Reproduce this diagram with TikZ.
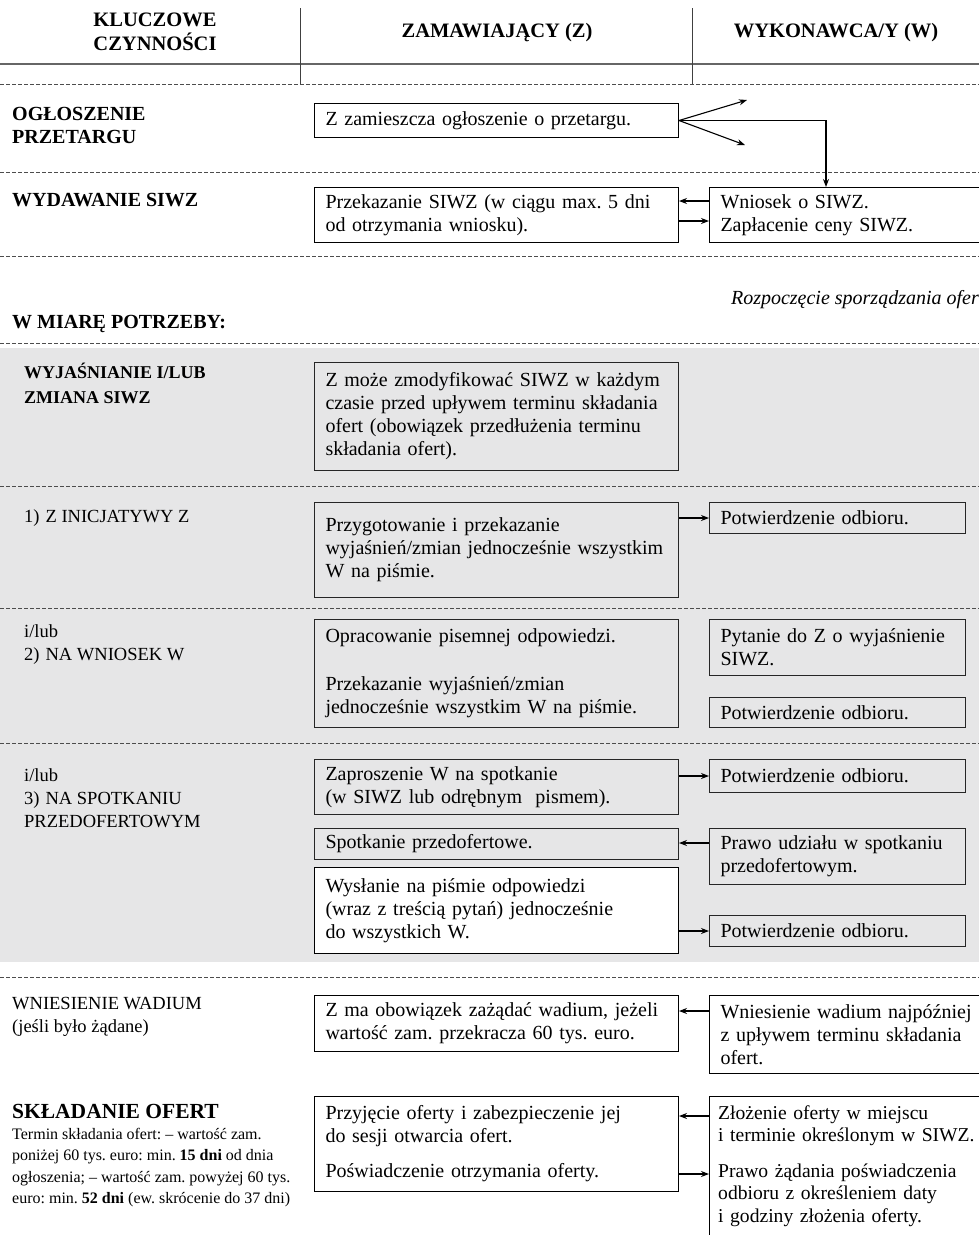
\documentclass[tikz,border=0pt]{standalone}
\usepackage{fontspec}
\setmainfont{Liberation Serif}
\usetikzlibrary{arrows.meta,calc}
\definecolor{bggray}{HTML}{E6E6E7}
\definecolor{dashcol}{HTML}{4D4D4D}
\frenchspacing
\begin{document}
\begin{tikzpicture}[x=1pt,y=-1pt,
  txt/.style={font=\fontsize{20}{23}\selectfont},
  box/.style={draw=black, line width=1pt, anchor=north west, inner xsep=11pt, inner ysep=0pt, align=left, txt},
  zbox/.style={box, minimum width=364pt, text width=342pt, minimum height=#1},
  wbox/.style={box, minimum width=256pt, text width=234pt, minimum height=#1},
  wboxr/.style={box, minimum width=300pt, text width=278pt, minimum height=#1},
  gbox/.style={fill=bggray, draw=black!85},
  sep/.style={draw=dashcol, line width=0.8pt, dash pattern=on 4pt off 2pt},
  arr/.style={-{Stealth[length=8pt,width=6pt]}, line width=1.1pt},
  lab/.style={anchor=west, inner sep=0pt, align=left},
  hd/.style={font=\bfseries\fontsize{20.5}{24}\selectfont, align=center, inner sep=0pt},
  labb/.style={lab, font=\bfseries\fontsize{20}{23}\selectfont},
  labr/.style={lab, font=\fontsize{18.5}{23}\selectfont},
]
\useasboundingbox (0,0) rectangle (979,1235);
\clip (0,0) rectangle (979,1235);

% header
\node[hd] (h1) at (155,32) {KLUCZOWE\\CZYNNOŚCI};
\node[hd] (h2) at (497,33) {ZAMAWIAJĄCY (Z)};
\node[hd] (h3) at (836,33) {WYKONAWCA/Y (W)};
\draw[line width=2pt, black!60] (0,64) -- (979,64);
\draw[line width=1pt, black!75] (300,8) -- (300,84);
\draw[line width=1pt, black!75] (692,8) -- (692,84);
\draw[sep] (0,84) -- (979,84);

% ogloszenie
\node[labb] (l1) at (12,125) {OGŁOSZENIE\\PRZETARGU};
\node[zbox=34] (z1) at (314,103) {Z zamieszcza ogłoszenie o przetargu.};
\coordinate (a1) at (747,100);
\coordinate (a2) at (745,145);
\draw[arr] (z1.east) -- (a1);
\draw[arr] (z1.east) -- (a2);

\draw[sep] (0,172) -- (979,172);

% wydawanie SIWZ
\node[labb] (l2) at (12,200) {WYDAWANIE SIWZ};
\node[zbox=55] (z2) at (314,187) {Przekazanie SIWZ (w ciągu max. 5 dni\\od otrzymania wniosku).};
\node[wboxr=55] (w2) at (709,187) {Wniosek o SIWZ.\\Zapłacenie ceny SIWZ.};
\draw[arr] (z1.east) -| ($(w2.north west)+(117,0)$);
\draw[arr] ($(w2.north west)+(0,14)$) -- ($(z2.north east)+(0,14)$);
\draw[arr] ($(z2.north east)+(0,34)$) -- ($(w2.north west)+(0,34)$);

\draw[sep] (0,256) -- (979,256);

\node[anchor=east, inner sep=0pt, font=\itshape\fontsize{20}{23}\selectfont] (r1) at (979,300) {Rozpoczęcie sporządzania ofer};
\node[labb] (l3) at (12,324) {W MIARĘ POTRZEBY:};
\draw[sep] (0,343) -- (979,343);

\fill[bggray] (0,348) rectangle (979,962);

% wyjasnianie
\node[lab, font=\bfseries\fontsize{18}{25}\selectfont] (l4) at (24,383.5) {WYJAŚNIANIE I/LUB\\ZMIANA SIWZ};
\node[zbox=108, gbox] (z3) at (314,362) {Z może zmodyfikować SIWZ w każdym\\czasie przed upływem terminu składania\\ofert (obowiązek przedłużenia terminu\\składania ofert).};

\draw[sep] (0,486) -- (979,486);

% 1) z inicjatywy
\node[labr] (l5) at (24,518) {1)\hspace{6pt}Z INICJATYWY Z};
\node[zbox=95, gbox] (z4) at (314,502) {Przygotowanie i przekazanie\\wyjaśnień/zmian jednocześnie wszystkim\\W na piśmie.};
\node[wbox=31, gbox] (w4) at (709,502) {Potwierdzenie odbioru.};
\draw[arr] (z4.east |- w4.west) -- (w4.west);

\draw[sep] (0,608) -- (979,608);

% 2) na wniosek
\node[labr] (l6) at (24,645) {i/lub\\2)\hspace{6pt}NA WNIOSEK W};
\node[zbox=108, gbox] (z5) at (314,619) {Opracowanie pisemnej odpowiedzi.\\[25pt]Przekazanie wyjaśnień/zmian\\jednocześnie wszystkim W na piśmie.};
\node[wbox=56, gbox] (w5a) at (709,619) {Pytanie do Z o wyjaśnienie\\SIWZ.};
\node[wbox=30, gbox] (w5b) at (709,697) {Potwierdzenie odbioru.};

\draw[sep] (0,743) -- (979,743);

% 3) na spotkaniu
\node[labr] (l7) at (24,798) {i/lub\\3)\hspace{6pt}NA SPOTKANIU\\PRZEDOFERTOWYM};
\node[zbox=55, gbox] (z6a) at (314,759) {Zaproszenie W na spotkanie\\(w SIWZ lub odrębnym\ \ pismem).};
\node[wbox=33, gbox] (w6a) at (709,759) {Potwierdzenie odbioru.};
\draw[arr] (z6a.east |- w6a.west) -- (w6a.west);
\node[zbox=31, gbox] (z6b) at (314,828) {Spotkanie przedofertowe.};
\node[wbox=56, gbox] (w6b) at (709,828) {Prawo udziału w spotkaniu\\przedofertowym.};
\draw[arr] ($(w6b.north west)+(0,15)$) -- ($(z6b.north east)+(0,15)$);
\node[zbox=86, fill=white] (z6c) at (314,867) {Wysłanie na piśmie odpowiedzi\\(wraz z treścią pytań) jednocześnie\\do wszystkich W.};
\node[wbox=31, gbox] (w6c) at (709,915) {Potwierdzenie odbioru.};
\draw[arr] (z6c.east |- w6c.west) -- (w6c.west);

\draw[sep] (0,977) -- (979,977);

% wadium
\node[labr] (l8) at (12,1016.5) {WNIESIENIE WADIUM\\(jeśli było żądane)};
\node[zbox=56, fill=white] (z7) at (314,995) {Z ma obowiązek zażądać wadium, jeżeli\\wartość zam. przekracza 60 tys. euro.};
\node[wboxr=78, fill=white] (w7) at (709,995) {Wniesienie wadium najpóźniej\\z upływem terminu składania\\ofert.};
\draw[arr] ($(w7.north west)+(0,16)$) -- ($(z7.north east)+(0,16)$);

% skladanie ofert
\node[lab, font=\bfseries\fontsize{21.5}{25}\selectfont] (l9) at (12,1111) {SKŁADANIE OFERT};
\node[lab, anchor=north west, font=\fontsize{16}{21.5}\selectfont] (l10) at (12,1128) {Termin składania ofert: – wartość zam.\\poniżej 60 tys. euro: min. \textbf{15 dni} od dnia\\ogłoszenia; – wartość zam. powyżej 60 tys.\\euro: min. \textbf{52 dni} (ew. skrócenie do 37 dni)};
\node[zbox=95, fill=white] (z8) at (314,1096) {Przyjęcie oferty i zabezpieczenie jej\\do sesji otwarcia ofert.\\[12pt]Poświadczenie otrzymania oferty.};
\node[anchor=north west, inner xsep=9pt, inner ysep=9pt, align=left, font=\fontsize{19.6}{22.5}\selectfont, text width=262pt] (w8) at (709,1096) {Złożenie oferty w miejscu\\i terminie określonym w SIWZ.\\[13pt]Prawo żądania poświadczenia\\odbioru z określeniem daty\\i godziny złożenia oferty.};
\draw[line width=1pt] ($(w8.north west)+(300,0)$) -- (w8.north west) -- ++(0,150);
\draw[arr] ($(w8.north west)+(0,20)$) -- ($(z8.north east)+(0,20)$);
\draw[arr] ($(z8.north east)+(0,78)$) -- ($(w8.north west)+(0,78)$);
\end{tikzpicture}
\end{document}
